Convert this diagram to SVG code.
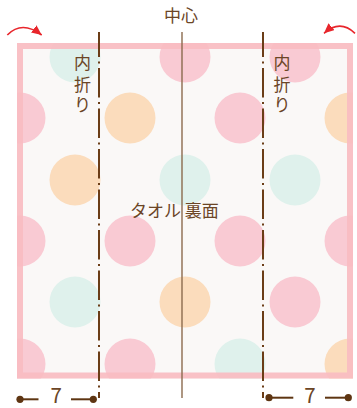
<svg xmlns="http://www.w3.org/2000/svg" width="357" height="408" viewBox="0 0 357 408">
  <style>
    .pk { fill: #f9cad3; }
    .or { fill: #fbdcbc; }
    .tl { fill: #dff1ec; }
    .txt { font-family: "Noto Sans CJK JP", "Noto Sans", sans-serif; fill: #6b4526; }
    .vch { font-family: "Liberation Sans", "Noto Sans CJK JP", sans-serif; font-size: 17px; fill: #6b4526; text-anchor: middle; }
    .fold { stroke: #6b3d17; stroke-width: 2; fill: none; stroke-dasharray: 29.5 4.5 2 4.5; stroke-dashoffset: 4.5; }
    .dim { stroke: #5e3512; stroke-width: 2; fill: none; }
    .dot { fill: #5e3512; }
    .red { stroke: #e8262c; stroke-width: 1.6; fill: none; }
  </style>
  <defs>
    <clipPath id="towelClip">
      <rect x="17" y="43" width="336" height="335.5"/>
    </clipPath>
    <marker id="redHead" markerUnits="userSpaceOnUse" markerWidth="11" markerHeight="10" refX="10" refY="4.5" orient="auto">
      <path d="M0,0 L10,4.5 L0,9 Z" fill="#e8262c"/>
    </marker>
  </defs>

  <g id="towel">
    <rect x="17" y="43" width="336" height="335.5" fill="#faf8f7"/>
    <g id="dots" clip-path="url(#towelClip)">
      <circle class="pk" cx="20" cy="118" r="25.5"/>
      <circle class="pk" cx="20" cy="241" r="25.5"/>
      <circle class="pk" cx="20" cy="364" r="25.5"/>
      <circle class="tl" cx="75" cy="57" r="25.5"/>
      <circle class="or" cx="75" cy="180" r="25.5"/>
      <circle class="tl" cx="75" cy="302" r="25.5"/>
      <circle class="or" cx="130" cy="118" r="25.5"/>
      <circle class="pk" cx="130" cy="241" r="25.5"/>
      <circle class="pk" cx="130" cy="364" r="25.5"/>
      <circle class="pk" cx="185" cy="57" r="25.5"/>
      <circle class="tl" cx="185" cy="180" r="25.5"/>
      <circle class="or" cx="185" cy="302" r="25.5"/>
      <circle class="pk" cx="240" cy="118" r="25.5"/>
      <circle class="pk" cx="240" cy="241" r="25.5"/>
      <circle class="tl" cx="240" cy="364" r="25.5"/>
      <circle class="pk" cx="295" cy="57" r="25.5"/>
      <circle class="tl" cx="295" cy="180" r="25.5"/>
      <circle class="pk" cx="295" cy="302" r="25.5"/>
      <circle class="or" cx="350" cy="118" r="25.5"/>
      <circle class="pk" cx="350" cy="241" r="25.5"/>
      <circle class="or" cx="350" cy="364" r="25.5"/>
    </g>
    <rect id="border" x="20" y="46" width="330" height="329.5" fill="none" stroke="#f9bcc1" stroke-width="6" stroke-opacity="0.92"/>
  </g>

  <g id="connectors">
    <line id="center-line" x1="182" y1="32" x2="182" y2="398" stroke="#8b6a4e" stroke-width="1.4"/>
    <line id="fold-left" class="fold" x1="99" y1="32" x2="99" y2="398"/>
    <line id="fold-right" class="fold" x1="263" y1="32" x2="263" y2="398"/>
    <path id="arrow-left" class="red" d="M7.3,35 Q22,20 41.7,35" marker-end="url(#redHead)"/>
    <path id="arrow-right" class="red" d="M355,33.3 Q340,19 324,33.3" marker-end="url(#redHead)"/>
  </g>

  <g id="label-center">
    <text class="txt" x="181" y="22" font-size="17" text-anchor="middle">中心</text>
  </g>
  <g id="label-fold-left">
    <text class="vch" x="82.5" y="69">内</text>
    <text class="vch" x="82.5" y="91">折</text>
    <text class="vch" x="82.5" y="111">り</text>
  </g>
  <g id="label-fold-right">
    <text class="vch" x="282" y="69">内</text>
    <text class="vch" x="282" y="91">折</text>
    <text class="vch" x="282" y="111">り</text>
  </g>
  <g id="label-towel">
    <text class="txt" x="130" y="217" font-size="17">タオル 裏面</text>
  </g>

  <g id="dimension-left">
    <line class="dim" x1="20" y1="399.3" x2="38.5" y2="399.3"/>
    <line class="dim" x1="71" y1="399.3" x2="93" y2="399.3"/>
    <circle class="dot" cx="20" cy="399.3" r="3.6"/>
    <circle class="dot" cx="93.3" cy="399.3" r="3.6"/>
    <text class="txt" x="56.2" y="403.3" font-size="20.5" text-anchor="middle" fill="#5e3512">7</text>
  </g>
  <g id="dimension-right">
    <line class="dim" x1="269" y1="397.7" x2="293.3" y2="397.7"/>
    <line class="dim" x1="325" y1="397.7" x2="348.3" y2="397.7"/>
    <circle class="dot" cx="269" cy="397.7" r="3.6"/>
    <circle class="dot" cx="348.3" cy="397.7" r="3.6"/>
    <text class="txt" x="310" y="403.3" font-size="20.5" text-anchor="middle">7</text>
  </g>
</svg>
